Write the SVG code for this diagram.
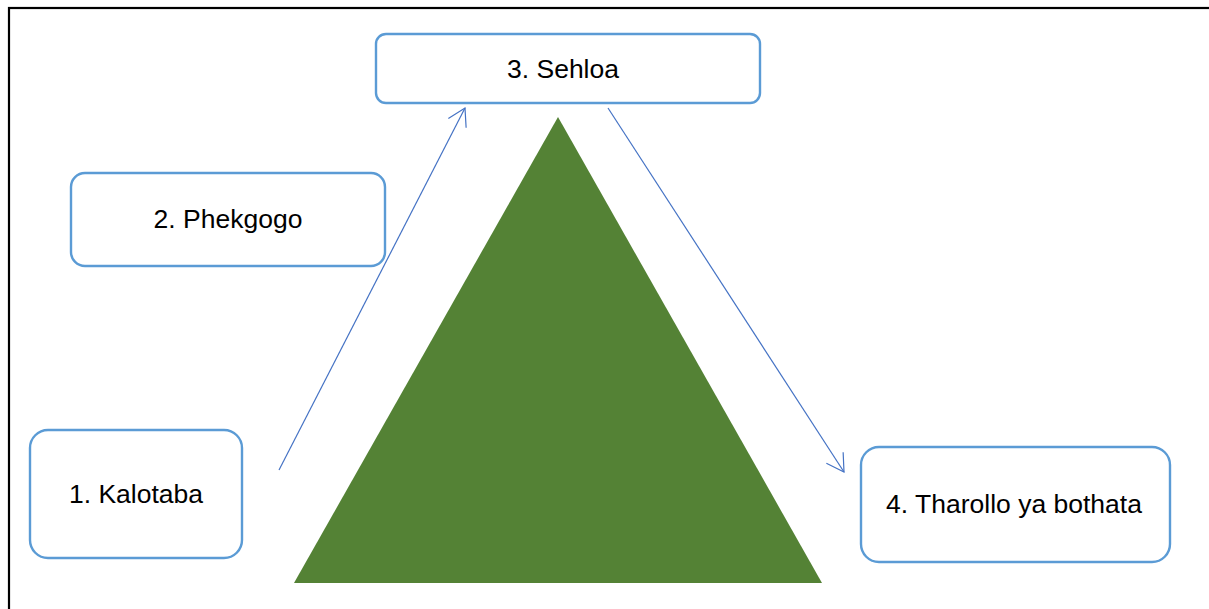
<svg xmlns="http://www.w3.org/2000/svg" width="1209" height="609" viewBox="0 0 1209 609">
  <defs>
    <style>
      .box { fill: #ffffff; stroke: #5B9BD5; stroke-width: 2.4; }
      .lbl { font-family: "Liberation Sans", "Open Sans", sans-serif; font-size: 26.5px; fill: #000000; text-anchor: middle; }
      .conn { stroke: #4472C4; stroke-width: 1.2; fill: none; marker-end: url(#arr); }
    </style>
    <marker id="arr" markerUnits="userSpaceOnUse" markerWidth="40" markerHeight="40" refX="0" refY="0" viewBox="-20 -20 40 40" orient="auto" overflow="visible">
      <path d="M-17,-10 L0,0 L-17,10" fill="none" stroke="#4472C4" stroke-width="1.2"/>
    </marker>
  </defs>
  <rect x="0" y="0" width="1209" height="609" fill="#ffffff"/>
  <rect x="9" y="8" width="1220" height="620" fill="none" stroke="#000000" stroke-width="2.2"/>

  <g id="triangle">
    <polygon points="558,117 294,583 822,583" fill="#548235"/>
  </g>

  <g id="connectors">
    <line class="conn" x1="279" y1="470" x2="465" y2="108"/>
    <line class="conn" x1="608" y1="108" x2="844" y2="472"/>
  </g>

  <g id="node3">
    <rect class="box" x="376" y="34" width="384" height="69" rx="10" ry="10"/>
    <text class="lbl" x="563" y="78">3. Sehloa</text>
  </g>
  <g id="node2">
    <rect class="box" x="71" y="173" width="314" height="93" rx="14" ry="14"/>
    <text class="lbl" x="228" y="228">2. Phekgogo</text>
  </g>
  <g id="node1">
    <rect class="box" x="30" y="430" width="212" height="128" rx="18" ry="18"/>
    <text class="lbl" x="136" y="503">1. Kalotaba</text>
  </g>
  <g id="node4">
    <rect class="box" x="861" y="447" width="309" height="115" rx="18" ry="18"/>
    <text class="lbl" x="1014" y="513">4. Tharollo ya bothata</text>
  </g>
</svg>
